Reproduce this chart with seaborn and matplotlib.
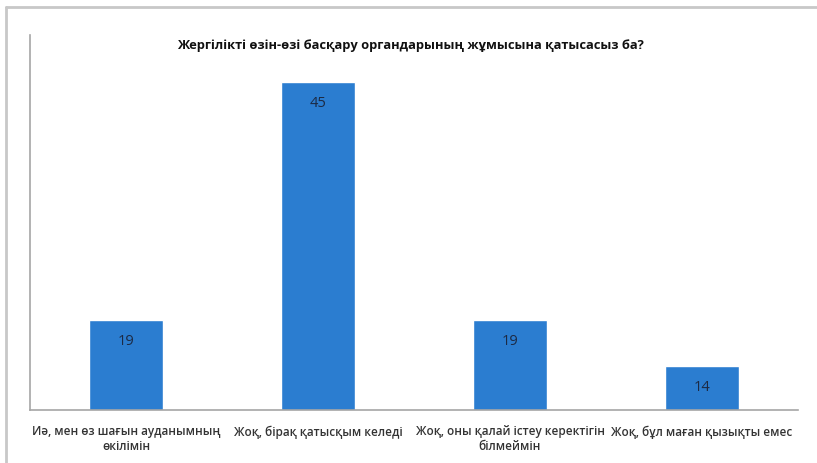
import matplotlib
matplotlib.use('Agg')
from matplotlib import pyplot as plt
from matplotlib.lines import Line2D
import pandas as pd
import seaborn as sns

title = 'Жергілікті өзін-өзі басқару органдарының жұмысына қатысасыз ба?'
answers = [
    'Иә, мен өз шағын ауданымның\nөкілімін',
    'Жоқ, бірақ қатысқым келеді',
    'Жоқ, оны қалай істеу керектігін\nбілмеймін',
    'Жоқ, бұл маған қызықты емес',
]
counts = [19, 45, 19, 14]

sns.set_style('white')
plt.rcParams['font.family'] = ['Open Sans', 'Noto Sans', 'DejaVu Sans']

df = pd.DataFrame({'answer': answers, 'count': counts})

fig = plt.figure(figsize=(8.17, 4.63), dpi=100)
ax = fig.add_axes([30/817, 1-410/463, 768/817, 375/463])

sns.barplot(data=df, x='answer', y='count', color='#2b7dd0', saturation=1,
            width=0.39, ax=ax)
ax.bar_label(ax.containers[0], labels=[str(v) for v in counts], padding=-21,
             fontsize=10.5, color='#1c2a44')

ax.set_ylim(9.2, 50.1)
ax.set_xlim(-0.5, 3.5)
ax.set_xlabel('')
ax.set_ylabel('')
ax.set_yticks([])
ax.tick_params(axis='x', length=0, pad=11)
for lab in ax.get_xticklabels():
    lab.set_fontsize(8.5)
    lab.set_fontweight('semibold')
    lab.set_color('#333333')
for s in ['top', 'right']:
    ax.spines[s].set_visible(False)
for s in ['left', 'bottom']:
    ax.spines[s].set_color('#a6a6a6')
    ax.spines[s].set_linewidth(1.2)

fig.text(410/817, 1-45/463, title, ha='center', va='center', fontsize=9.3,
         fontweight='bold', color='#111111')

# outer frame (top and left edges)
fig.add_artist(Line2D([6/817, 6/817], [0, 1-7/463], color='#c8c8c8', lw=2,
                      transform=fig.transFigure))
fig.add_artist(Line2D([6/817, 1], [1-7/463, 1-7/463], color='#c8c8c8', lw=2,
                      transform=fig.transFigure))

fig.savefig('out.png', dpi=100)
